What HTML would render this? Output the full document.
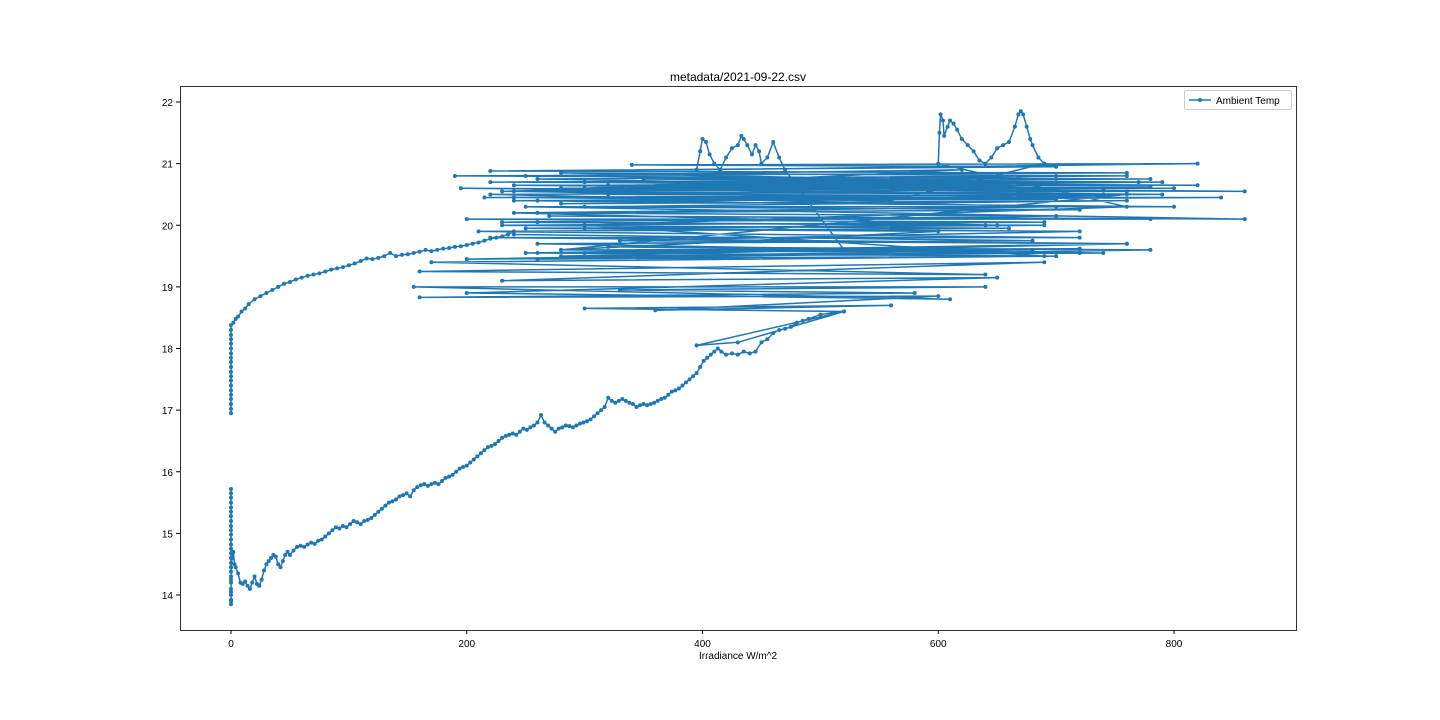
<!DOCTYPE html>
<html><head><meta charset="utf-8"><style>
body{margin:0;background:#fff;}
svg{display:block;font-family:"Liberation Sans","DejaVu Sans",sans-serif;}
</style></head><body>
<svg id="chart" width="1440" height="720">
<rect x="0" y="0" width="1440" height="720" fill="#fff"/>
<text x="738" y="81" font-size="12" text-anchor="middle">metadata/2021-09-22.csv</text>
<text x="738" y="659" font-size="10" text-anchor="middle">Irradiance W/m^2</text>
<g id="axes"></g>
<g id="series"></g>
<rect x="180.5" y="86.5" width="1116" height="544" fill="none" stroke="#000" stroke-width="0.8"/>
<g>
<rect x="1184.5" y="90.5" width="107" height="19" rx="2" fill="#fff" stroke="#ccc"/>
<line x1="1189" y1="100" x2="1211" y2="100" stroke="#1f77b4" stroke-width="1.5"/>
<circle cx="1200" cy="100" r="2" fill="#1f77b4"/>
<text x="1216" y="104" font-size="10">Ambient Temp</text>
</g>
</svg>
<script>
const xTicks=[0,200,400,600,800];
const yTicks=[14,15,16,17,18,19,20,21,22];
// [irradiance, temperature] readings in time order, split by part of day
const night1=[[0,15.72],[0,15.65],[0,15.58],[0,15.5],[0,15.42],[0,15.35],[0,15.28],[0,15.2],[0,15.12],[0,15.05],[0,14.98],[0,14.9],[0,14.82],[0,14.75],[0,14.68],[0,14.6],[0,14.52],[0,14.45],[0,14.38],[0,14.3],[0,14.2],[0,14.1],[0,14.0],[0,13.92],[0,13.85],[0,13.9],[0,14.05],[0,14.25],[0,14.45],[1,14.6],[2,14.7],[3,14.5]];
const morning=[[4,14.45],[6,14.35],[8,14.2],[10,14.18],[12,14.22],[14,14.15],[16,14.1],[18,14.2],[20,14.3],[22,14.18],[24,14.15],[26,14.25],[28,14.4],[30,14.5],[32,14.55],[34,14.6],[36,14.65],[38,14.62],[40,14.5],[42,14.45],[44,14.55],[46,14.65],[48,14.7],[50,14.65],[53,14.72],[56,14.78],[59,14.8],[62,14.78],[65,14.82],[68,14.85],[71,14.83],[74,14.88],[77,14.9],[80,14.95],[83,15.0],[86,15.05],[89,15.1],[92,15.08],[95,15.12],[98,15.1],[101,15.15],[104,15.2],[107,15.18],[110,15.15],[113,15.2],[116,15.22],[119,15.25],[122,15.3],[125,15.35],[128,15.4],[131,15.45],[134,15.5],[137,15.52],[140,15.55],[143,15.6],[146,15.62],[149,15.65],[152,15.6],[155,15.7],[158,15.75],[161,15.78],[164,15.8],[167,15.77],[170,15.8],[173,15.82],[176,15.8],[179,15.85],[182,15.9],[185,15.92],[188,15.95],[191,16.0],[194,16.05],[197,16.08],[200,16.1],[203,16.15],[206,16.2],[209,16.25],[212,16.3],[215,16.35],[218,16.4],[221,16.42],[224,16.45],[227,16.5],[230,16.55],[233,16.58],[236,16.6],[239,16.62],[242,16.6],[245,16.65],[248,16.7],[251,16.68],[254,16.72],[257,16.75],[260,16.8],[263,16.92],[266,16.8],[269,16.75],[272,16.7],[275,16.65],[278,16.7],[281,16.72],[284,16.75],[287,16.74],[290,16.72],[293,16.75],[296,16.78],[299,16.8],[302,16.82],[305,16.85],[308,16.9],[311,16.95],[314,17.0],[317,17.05],[320,17.2],[323,17.15],[326,17.12],[329,17.15],[332,17.18],[335,17.15],[338,17.12],[341,17.1],[344,17.05],[347,17.08],[350,17.1],[353,17.08],[356,17.1],[359,17.12],[362,17.15],[365,17.18],[368,17.2],[371,17.25],[374,17.3],[377,17.32],[380,17.35],[383,17.4],[386,17.45],[389,17.5],[392,17.55],[395,17.6],[398,17.7],[401,17.8],[404,17.85],[407,17.9],[410,17.95],[413,18.0],[416,17.95],[420,17.9],[425,17.92],[430,17.9],[435,17.95],[440,17.92],[445,17.95],[450,18.1],[455,18.15],[460,18.25],[465,18.3],[470,18.32],[475,18.35],[480,18.42],[485,18.45],[490,18.48],[500,18.55],[510,18.58],[520,18.6],[395,18.05],[430,18.1]];
const middayA=[[520,18.6],[300,18.65],[560,18.7],[360,18.62],[600,18.85],[160,18.83],[580,18.9],[330,18.95],[640,19.0],[155,19.0],[610,18.8],[200,18.9],[650,19.15],[230,19.1],[690,19.4],[160,19.25],[640,19.2],[170,19.4],[700,19.5],[200,19.45],[680,19.6],[250,19.55],[760,19.7],[220,19.8],[720,19.8],[210,19.9],[660,19.95],[230,20.0],[690,20.05],[200,20.1],[780,20.1],[270,20.15],[860,20.1],[250,20.3],[800,20.3],[240,20.4],[840,20.45],[215,20.45],[790,20.5],[195,20.6],[860,20.55],[240,20.65],[820,20.65],[220,20.7],[780,20.75],[190,20.8],[760,20.85],[220,20.88],[700,20.95],[340,20.98],[820,21.0]];
const peak1=[[395,20.9],[398,21.2],[400,21.4],[403,21.35],[406,21.15],[410,21.0],[415,20.9],[420,21.1],[425,21.25],[430,21.3],[433,21.45],[435,21.4],[438,21.3],[442,21.15],[445,21.3],[448,21.2],[450,21.0],[455,21.1],[460,21.35],[465,21.1],[470,20.9]];
const middayB=[[520,19.6],[300,19.55],[700,19.5],[260,19.45],[780,19.6],[320,19.65],[740,19.55],[280,19.5],[760,19.7],[330,19.75],[720,19.9],[300,19.95],[690,20.0],[260,20.05],[650,20.0],[240,20.2],[700,20.3],[220,20.5],[760,20.55],[280,20.6],[800,20.6],[320,20.65],[770,20.7],[300,20.7],[740,20.6],[260,20.75],[700,20.8],[230,20.55],[680,20.6],[300,20.6],[790,20.7],[350,20.75],[760,20.8],[280,20.85],[700,20.7],[250,20.8],[620,20.9],[300,20.6],[780,20.62],[320,20.5],[740,20.48],[260,20.4],[700,20.42],[240,20.55],[760,20.5],[280,19.6],[720,19.62],[260,19.55],[690,19.5],[300,20.0],[760,20.3],[600,21.0]];
const peak2=[[601,21.5],[602,21.8],[604,21.7],[605,21.45],[608,21.6],[610,21.7],[613,21.65],[616,21.55],[620,21.4],[625,21.3],[630,21.2],[635,21.05],[640,21.0],[645,21.1],[650,21.25],[655,21.3],[660,21.35],[665,21.6],[668,21.8],[670,21.85],[672,21.8],[675,21.6],[678,21.4],[680,21.3],[685,21.1],[690,21.0]];
const middayC=[[560,20.4],[240,20.45],[740,20.5],[280,20.35],[760,20.4],[300,20.3],[720,20.25],[260,20.2],[700,20.15],[230,20.05],[640,20.0],[250,19.95],[600,19.9],[280,19.6],[720,19.55],[260,19.7],[680,19.75],[240,19.85]];
const evening=[[240,19.9],[235,19.85],[230,19.82],[225,19.8],[220,19.78],[215,19.75],[210,19.72],[205,19.7],[200,19.68],[195,19.66],[190,19.65],[185,19.63],[180,19.62],[175,19.6],[170,19.58],[165,19.6],[160,19.57],[155,19.55],[150,19.53],[145,19.52],[140,19.5],[135,19.55],[130,19.5],[125,19.47],[120,19.45],[115,19.46],[110,19.42],[105,19.38],[100,19.35],[95,19.32],[90,19.3],[85,19.28],[80,19.25],[75,19.22],[70,19.2],[65,19.18],[60,19.15],[55,19.12],[50,19.08],[45,19.05],[40,19.0],[35,18.95],[30,18.9],[25,18.85],[20,18.8],[15,18.72],[12,18.65],[9,18.6],[6,18.52],[4,18.48],[2,18.42],[0,18.38]];
const night2=[[0,18.3],[0,18.22],[0,18.15],[0,18.08],[0,18.0],[0,17.92],[0,17.85],[0,17.78],[0,17.7],[0,17.62],[0,17.55],[0,17.48],[0,17.4],[0,17.32],[0,17.25],[0,17.18],[0,17.1],[0,17.02],[0,16.95]];
const allPoints=[].concat(night1,morning,middayA,peak1,middayB,peak2,middayC,evening,night2);
const X0=180,X1=1296,Y0=86,Y1=630;
function xs(v){return 231+v*(1174-231)/800;}
function ys(v){return 595-(v-14)*(595-102)/8;}
const NS="http://www.w3.org/2000/svg";
const axes=document.getElementById('axes'),ser=document.getElementById('series');
xTicks.forEach(t=>{
 const l=document.createElementNS(NS,'line');
 l.setAttribute('x1',xs(t));l.setAttribute('x2',xs(t));l.setAttribute('y1',Y1);l.setAttribute('y2',Y1+4);l.setAttribute('stroke','#000');
 
 
 axes.appendChild(l);
 const tx=document.createElementNS(NS,'text');
 tx.setAttribute('x',xs(t));tx.setAttribute('y',Y1+17);tx.setAttribute('font-size','10');tx.setAttribute('text-anchor','middle');tx.textContent=t;
 
 
 axes.appendChild(tx);
});
yTicks.forEach(t=>{
 const l=document.createElementNS(NS,'line');
 l.setAttribute('x1',X0-4);l.setAttribute('x2',X0);l.setAttribute('y1',ys(t));l.setAttribute('y2',ys(t));l.setAttribute('stroke','#000');
 
 
 axes.appendChild(l);
 const tx=document.createElementNS(NS,'text');
 tx.setAttribute('x',X0-7);tx.setAttribute('y',ys(t)+4);tx.setAttribute('font-size','10');tx.setAttribute('text-anchor','end');tx.textContent=t;
 
 
 axes.appendChild(tx);
});
const pts=allPoints.map(p=>xs(p[0]).toFixed(1)+','+ys(p[1]).toFixed(1)).join(' ');
const pl=document.createElementNS(NS,'polyline');
pl.setAttribute('points',pts);pl.setAttribute('fill','none');pl.setAttribute('stroke','#1f77b4');pl.setAttribute('stroke-width','1.5');


ser.appendChild(pl);
allPoints.forEach(p=>{
 const c=document.createElementNS(NS,'circle');
 c.setAttribute('cx',xs(p[0]));c.setAttribute('cy',ys(p[1]));c.setAttribute('r','2');c.setAttribute('fill','#1f77b4');
 
 
 ser.appendChild(c);
});
</script>
</body></html>
